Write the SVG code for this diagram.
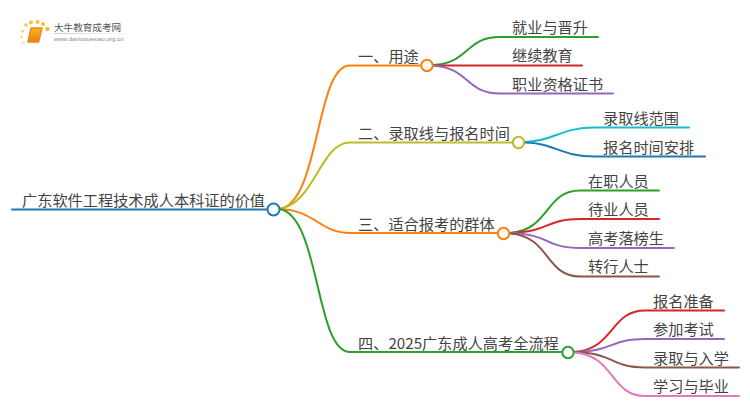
<svg xmlns="http://www.w3.org/2000/svg" width="750" height="410" viewBox="0 0 750 410">
<defs>
<linearGradient id="book" x1="0" y1="0" x2="0" y2="1"><stop offset="0" stop-color="#fbb81e"/><stop offset="1" stop-color="#ee7c12"/></linearGradient>
<linearGradient id="rule" x1="0" y1="0" x2="1" y2="0"><stop offset="0" stop-color="#ccc"/><stop offset="1" stop-color="#fff"/></linearGradient>
</defs>
<style>
text{font-family:"Noto Sans CJK SC","Liberation Sans",sans-serif;font-size:15.200px;fill:#444}
path{fill:none;stroke-width:2;stroke-linecap:round}
circle.n{fill:#fff;stroke-width:2}
.dot{fill:#fbbf3a}
</style>
<rect width="750" height="410" fill="#fff"/>
<g id="logo">
<circle class="dot" cx="26" cy="25" r="1.800" opacity=".9"/><circle class="dot" cx="31" cy="22.500" r="2"/>
<circle class="dot" cx="37.500" cy="22" r="2"/><circle class="dot" cx="43" cy="24" r="2"/><circle class="dot" cx="47.500" cy="29" r="2.300"/>
<circle class="dot" cx="22.500" cy="31" r="1.500" opacity=".8"/><circle class="dot" cx="21.500" cy="37" r="1.300" opacity=".7"/><circle class="dot" cx="23.500" cy="42.500" r="1.200" opacity=".5"/>
<path d="M31 28H42L38.500 42H28Z" style="fill:url(#book);stroke:#e98a17;stroke-width:1.500;stroke-linejoin:round"/>
<text x="54" y="31" style="font-size:9.600px;fill:#555">大牛教育成考网</text>
<rect x="54" y="33" width="80" height="1" fill="url(#rule)"/>
<text x="54" y="40.500" style="font-size:6.150px;fill:#888;font-family:'Liberation Sans',sans-serif">www.daniuxuexiao.org.cn</text>
</g>
<g id="connectors">
<path stroke="#1f78b4" d="M12 209.500H268"/>
<path stroke="#ff7f0e" d="M279 209C320 205 315 65.500 350 65.500H421"/>
<path stroke="#bcbd22" d="M279 209C315 204 320 142.500 350 142.500H512"/>
<path stroke="#ff7f0e" d="M279 209C315 210 320 233 350 233H497"/>
<path stroke="#2ca02c" d="M279 209C320 214 315 352 350 352H561"/>
<path stroke="#2ca02c" d="M433 65C470 63 465 37 500 37H598"/>
<path stroke="#d62728" d="M433 65.500H582"/>
<path stroke="#9467bd" d="M433 65.500C470 68 465 93.500 500 93.500H613"/>
<path stroke="#17becf" d="M525 142C555 141 560 127.500 595 127.500H689"/>
<path stroke="#1f78b4" d="M525 142.500C555 143 560 156.500 595 156.500H705"/>
<path stroke="#2ca02c" d="M510 233C550 230 545 190.500 580 190.500H659"/>
<path stroke="#d62728" d="M510 233C550 232 545 219 580 219H659"/>
<path stroke="#9467bd" d="M510 233C550 234 545 248 580 248H674"/>
<path stroke="#8c564b" d="M510 233.500C550 236 545 276.500 580 276.500H659"/>
<path stroke="#d62728" d="M574 352C615 349 610 310.500 645 310.500H724"/>
<path stroke="#9467bd" d="M574 352C615 351 610 339 645 339H724"/>
<path stroke="#8c564b" d="M574 352C615 353 610 367.500 645 367.500H739"/>
<path stroke="#e377c2" d="M574 352.500C615 355 610 396 645 396H739"/>
</g>
<g id="root"><text x="22" y="205.500">广东软件工程技术成人本科证的价值</text><circle class="n" cx="273.500" cy="209.500" r="6" stroke="#1f78b4"/></g>
<g id="n1"><text x="358" y="62">一、用途</text><circle class="n" cx="427" cy="65.500" r="5.700" stroke="#ff7f0e"/></g>
<g id="n2"><text x="358" y="138.500">二、录取线与报名时间</text><circle class="n" cx="518.500" cy="142.500" r="5.700" stroke="#bcbd22"/></g>
<g id="n3"><text x="358" y="230">三、适合报考的群体</text><circle class="n" cx="503.500" cy="233.500" r="5.700" stroke="#ff7f0e"/></g>
<g id="n4"><text x="358" y="349">四、2025广东成人高考全流程</text><circle class="n" cx="568" cy="352.500" r="5.700" stroke="#2ca02c"/></g>
<g id="l1"><text x="512" y="32.500">就业与晋升</text></g>
<g id="l2"><text x="512" y="61">继续教育</text></g>
<g id="l3"><text x="512" y="89.500">职业资格证书</text></g>
<g id="l4"><text x="603" y="124">录取线范围</text></g>
<g id="l5"><text x="603" y="152.500">报名时间安排</text></g>
<g id="l6"><text x="588" y="186.500">在职人员</text></g>
<g id="l7"><text x="588" y="215">待业人员</text></g>
<g id="l8"><text x="588" y="243.500">高考落榜生</text></g>
<g id="l9"><text x="588" y="272">转行人士</text></g>
<g id="l10"><text x="653" y="306.500">报名准备</text></g>
<g id="l11"><text x="653" y="334.500">参加考试</text></g>
<g id="l12"><text x="653" y="363.500">录取与入学</text></g>
<g id="l13"><text x="653" y="391.500">学习与毕业</text></g>
</svg>
